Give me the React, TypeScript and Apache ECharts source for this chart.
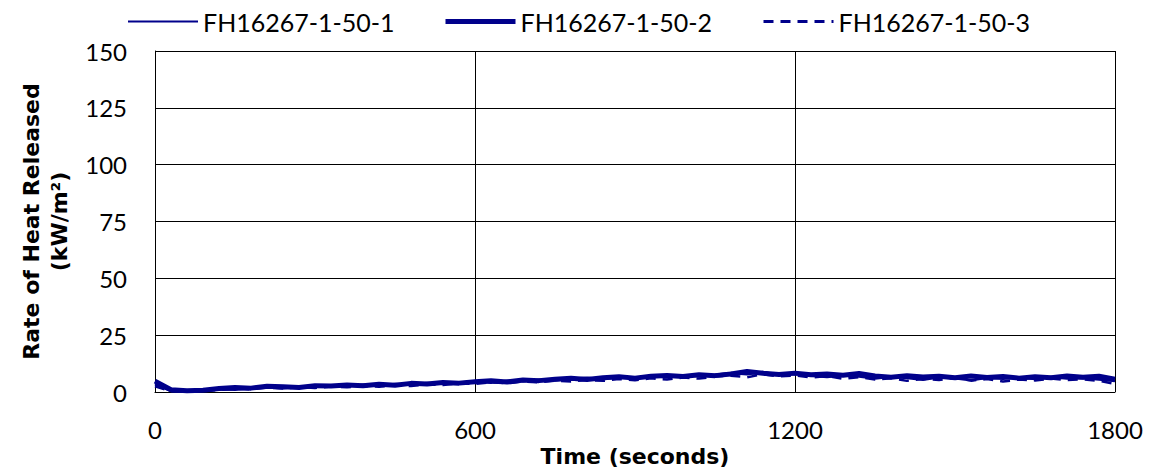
import React, { useEffect, useRef } from "react";
import * as echarts from "echarts";

const SERIES_NAMES = ["FH16267-1-50-1", "FH16267-1-50-2", "FH16267-1-50-3"];
const TIME_STEP = 30; // seconds between samples
const S1 = [3.5, 0.4, 0.2, 0.6, 1.2, 1.0, 1.8, 2.1, 1.6, 2.4, 2.2, 2.9, 2.5, 3.2, 2.8, 3.5, 3.3, 4.0, 3.6, 4.2, 4.6, 4.1, 5.0, 4.7, 5.4, 5.1, 5.8, 6.3, 5.6, 6.6, 6.2, 7.0, 6.5, 7.4, 6.9, 7.6, 8.4, 7.8, 8.8, 7.5, 7.9, 7.1, 6.6, 7.3, 6.8, 5.9, 6.7, 6.2, 5.4, 6.5, 6.0, 5.2, 6.3, 5.8, 6.4, 5.7, 6.6, 5.9, 6.2, 5.5, 4.8];
const S2 = [4.8, 1.0, 0.5, 0.8, 1.5, 2.0, 1.7, 2.5, 2.3, 2.0, 2.8, 2.6, 3.1, 2.7, 3.4, 3.0, 3.8, 3.5, 4.2, 3.9, 4.5, 4.9, 4.4, 5.3, 5.0, 5.6, 6.0, 5.5, 6.3, 6.7, 6.1, 6.9, 7.3, 6.8, 7.6, 7.2, 7.9, 9.0, 8.2, 7.7, 8.3, 7.6, 7.9, 7.4, 8.1, 7.0, 6.5, 7.2, 6.6, 6.9, 6.3, 7.0, 6.4, 6.8, 6.1, 6.7, 6.3, 7.0, 6.5, 6.9, 5.6];
const S3 = [2.5, 0.3, 0.1, 0.4, 0.9, 1.4, 1.2, 1.9, 1.5, 2.2, 1.8, 2.4, 2.1, 2.7, 2.3, 3.0, 2.6, 3.4, 3.1, 3.8, 3.5, 4.3, 3.8, 4.6, 4.2, 5.0, 4.6, 5.3, 4.9, 5.7, 5.2, 6.0, 5.5, 6.4, 5.9, 6.8, 7.2, 6.5, 7.8, 6.9, 7.3, 6.4, 7.0, 5.8, 6.5, 5.5, 6.1, 4.9, 5.8, 5.3, 6.2, 5.0, 5.7, 4.6, 5.5, 5.1, 5.9, 5.3, 5.6, 4.9, 3.6];
const X_TICKS = [0, 600, 1200, 1800];
const Y_TICKS = [0, 25, 50, 75, 100, 125, 150];

const NAVY = "#00008B";
const TICK_FONT = "Lato, 'Open Sans', sans-serif";
const TITLE_FONT = "'DejaVu Sans', Verdana, sans-serif";

function toPairs(vals: number[]) {
  return vals.map((v, i) => [i * TIME_STEP, v]);
}

export default function App() {
  const ref = useRef<HTMLDivElement>(null);
  useEffect(() => {
    if (!ref.current) return;
    const chart = echarts.init(ref.current, null, { renderer: "svg" });
    const legendText = { fontFamily: TICK_FONT, fontSize: 25, color: "#000" };
    const legendBase = {
      top: 9,
      itemWidth: 70,
      itemHeight: 14,
      padding: 0,
      textStyle: legendText,
      itemStyle: { color: "rgba(0,0,0,0)", borderColor: "rgba(0,0,0,0)", borderWidth: 0 },
    };
    chart.setOption({
      animation: false,
      backgroundColor: "#fff",
      grid: { left: 155, right: 35, top: 51, bottom: 82, containLabel: false },
      legend: [
        { ...legendBase, data: [SERIES_NAMES[0]], left: 127, lineStyle: { width: 2 } },
        { ...legendBase, data: [SERIES_NAMES[1]], left: 443, lineStyle: { width: 5 } },
        { ...legendBase, data: [SERIES_NAMES[2]], left: 762, lineStyle: { width: 3 } },
      ],
      xAxis: {
        type: "value",
        min: X_TICKS[0],
        max: X_TICKS[X_TICKS.length - 1],
        interval: 600,
        name: "Time (seconds)",
        nameLocation: "middle",
        nameGap: 52,
        nameTextStyle: { fontFamily: TITLE_FONT, fontWeight: "bold", fontSize: 22, color: "#000" },
        axisLine: { show: true, lineStyle: { color: "#000", width: 1 } },
        axisTick: { show: false },
        axisLabel: { fontFamily: TICK_FONT, fontSize: 24, color: "#000", margin: 25, formatter: (v: number) => String(v) },
        splitLine: { show: true, lineStyle: { color: "#000", width: 1 } },
      },
      yAxis: {
        type: "value",
        min: Y_TICKS[0],
        max: Y_TICKS[Y_TICKS.length - 1],
        interval: 25,
        name: "Rate of Heat Released\n(kW/m²)",
        nameLocation: "middle",
        nameGap: 82,
        nameTextStyle: { fontFamily: TITLE_FONT, fontWeight: "bold", fontSize: 22, color: "#000", lineHeight: 28 },
        axisLine: { show: true, lineStyle: { color: "#000", width: 1 } },
        axisTick: { show: false },
        axisLabel: { fontFamily: TICK_FONT, fontSize: 24, color: "#000", margin: 28 },
        splitLine: { show: true, lineStyle: { color: "#000", width: 1 } },
      },
      series: [
        { name: SERIES_NAMES[0], type: "line", data: toPairs(S1), symbol: "none", lineStyle: { color: NAVY, width: 2.5 }, itemStyle: { color: NAVY } },
        { name: SERIES_NAMES[1], type: "line", data: toPairs(S2), symbol: "none", lineStyle: { color: NAVY, width: 5 }, itemStyle: { color: NAVY } },
        { name: SERIES_NAMES[2], type: "line", data: toPairs(S3), symbol: "none", lineStyle: { color: NAVY, width: 2.5, type: [10, 7] }, itemStyle: { color: NAVY } },
      ],
    });
    return () => chart.dispose();
  }, []);
  return <div ref={ref} style={{ position: "fixed", left: 0, top: 0, width: 1150, height: 474 }} />;
}
